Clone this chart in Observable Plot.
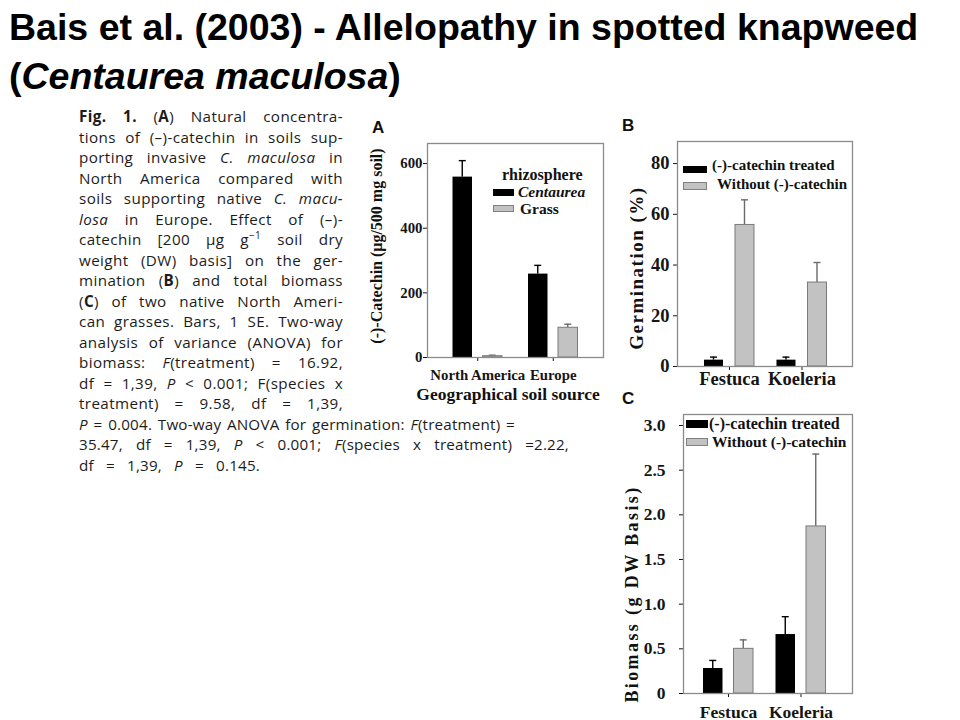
<!DOCTYPE html>
<html>
<head>
<meta charset="utf-8">
<script src="https://cdn.jsdelivr.net/npm/d3@7"></script>
<script src="https://cdn.jsdelivr.net/npm/@observablehq/plot@0.6"></script>
<style>
  html, body { margin:0; padding:0; background:#fff; }
  body { width:960px; height:720px; position:relative; overflow:hidden; }
  .abs { position:absolute; }
  #title { left:9px; top:3px; font-family:"Liberation Sans", Arial, sans-serif; font-weight:bold; font-size:37.5px; line-height:48.5px; color:#000; white-space:nowrap; }
  #caption { left:79px; top:106px; font-family:"Open Sans", sans-serif; font-size:15.2px; letter-spacing:0.4px; line-height:20.5px; color:#1c1c1c; }
  #caption .j { width:264px; text-align:justify; text-align-last:justify; }
  #caption .w16 { width:436px; letter-spacing:0.2px; }
  #caption .w17 { width:490px; letter-spacing:0.2px; }
  #caption .w18 { width:181px; letter-spacing:0.2px; }
  #caption sup { font-size:10px; line-height:0; vertical-align:6px; }
  .serif { position:absolute; font-family:"Liberation Serif", "Times New Roman", serif; font-weight:bold; color:#111; white-space:nowrap; line-height:1; }
  .rot { transform: translate(-50%,-50%) rotate(-90deg); }
  .ctr { transform: translate(-50%,-50%); }
  .vc { transform: translateY(-50%); }
  .letter { position:absolute; font-family:"Liberation Sans", Arial, sans-serif; font-weight:bold; font-size:17px; line-height:17px; color:#111; }
  .sw { position:absolute; box-sizing:border-box; }
  .sw.k { background:#000; }
  .sw.g { background:#c2c2c2; border:1px solid #808080; }
  .panel { position:absolute; }
</style>
</head>
<body>
<div id="title" class="abs">Bais et al. (2003) - Allelopathy in spotted knapweed<br>(<i>Centaurea maculosa</i>)</div>

<div id="caption" class="abs">
<div class="j"><b>Fig. 1.</b> (<b>A</b>) Natural concentra-</div>
<div class="j">tions of (–)-catechin in soils sup-</div>
<div class="j">porting invasive <i>C. maculosa</i> in</div>
<div class="j">North America compared with</div>
<div class="j">soils supporting native <i>C. macu-</i></div>
<div class="j"><i>losa</i> in Europe. Effect of (–)-</div>
<div class="j">catechin [200 μg g<sup>−1</sup> soil dry</div>
<div class="j">weight (DW) basis] on the ger-</div>
<div class="j">mination (<b>B</b>) and total biomass</div>
<div class="j">(<b>C</b>) of two native North Ameri-</div>
<div class="j">can grasses. Bars, 1 SE. Two-way</div>
<div class="j">analysis of variance (ANOVA) for</div>
<div class="j">biomass: <i>F</i>(treatment) = 16.92,</div>
<div class="j">df = 1,39, <i>P</i> &lt; 0.001; F(species x</div>
<div class="j">treatment) = 9.58, df = 1,39,</div>
<div class="j w16"><i>P</i> = 0.004. Two-way ANOVA for germination: <i>F</i>(treatment) =</div>
<div class="j w17">35.47, df = 1,39, <i>P</i> &lt; 0.001; <i>F</i>(species x treatment) =2.22,</div>
<div class="j w18">df = 1,39, <i>P</i> = 0.145.</div>
</div>

<div id="panelA" class="panel" style="left:360px;top:110px;width:260px;"></div>
<div id="panelB" class="panel" style="left:615px;top:110px;width:260px;"></div>
<div id="panelC" class="panel" style="left:615px;top:400px;width:260px;"></div>

<div id="overlay"></div>

<script>
// ---------- Data ----------
// Panel A: (-)-catechin in soil by geographical source and rhizosphere
const regions = ["North America", "Europe"];
const rhizosphere = ["Centaurea", "Grass"];
const catechinCentaurea = [558, 258];
const catechinCentaureaSE = [51, 27];
const catechinGrass = [4, 92];
const catechinGrassSE = [3, 11];
const catechinTicks = [0, 200, 400, 600];

// Panels B and C: two native grasses, with/without (-)-catechin
const grassSpecies = ["Festuca", "Koeleria"];
const treatments = ["(-)-catechin treated", "Without (-)-catechin"];
const germinationTreated = [2.5, 2.5];
const germinationTreatedSE = [1.2, 1.2];
const germinationControl = [55.8, 33.1];
const germinationControlSE = [9.9, 7.9];
const germinationTicks = [0, 20, 40, 60, 80];

const biomassTreated = [0.28, 0.66];
const biomassTreatedSE = [0.09, 0.20];
const biomassControl = [0.50, 1.87];
const biomassControlSE = [0.10, 0.81];
const biomassTicks = [0, 0.5, 1, 1.5, 2, 2.5, 3];
const biomassTickLabels = ["0", "0.5", "1.0", "1.5", "2.0", "2.5", "3.0"];

// ---------- Panel builder ----------
function groupedBarPanel(o) {
  const rows = o.cats.map((c, i) => ({
    cat: c,
    a: o.a[i], aHi: o.a[i] + o.aSE[i],
    b: o.b[i], bHi: o.b[i] + o.bSE[i]
  }));
  const n = o.cats.length;
  const pi = 1 - o.bw / o.step;
  const po = (o.frameW / o.step - n + pi) / 2;
  const ca = o.barW / 2, cb = o.bw - o.barW / 2;
  const lw = 1.4, cap = 7;
  const lineIns = c => ({insetLeft: c - lw / 2, insetRight: o.bw - c - lw / 2});
  const capIns = c => ({insetLeft: c - cap / 2, insetRight: o.bw - c - cap / 2});
  return Plot.plot({
    width: o.mL + o.frameW + o.mR,
    height: o.mT + o.frameH + o.mB,
    marginLeft: o.mL, marginRight: o.mR, marginTop: o.mT, marginBottom: o.mB,
    style: {
      background: "transparent",
      fontFamily: '"Liberation Serif", "Times New Roman", serif',
      fontWeight: "bold",
      fontSize: o.fontSize + "px",
      color: "#151515",
      overflow: "visible"
    },
    x: {type: "band", domain: o.cats, paddingInner: pi, paddingOuter: po, align: o.align,
        round: false, label: null, tickSize: 4, tickPadding: o.xPad},
    y: {domain: [0, o.yMax], ticks: o.ticks, tickFormat: o.fmt, tickSize: 4,
        tickPadding: o.yPad, label: null},
    marks: [
      Plot.barY(rows, {x: "cat", y1: "a", y2: "aHi", fill: "#000", ...lineIns(ca)}),
      Plot.tickY(rows, {x: "cat", y: "aHi", stroke: "#000", strokeWidth: 1.4, ...capIns(ca)}),
      Plot.barY(rows, {x: "cat", y1: "b", y2: "bHi", fill: "#6a6a6a", ...lineIns(cb)}),
      Plot.tickY(rows, {x: "cat", y: "bHi", stroke: "#6a6a6a", strokeWidth: 1.4, ...capIns(cb)}),
      Plot.barY(rows, {x: "cat", y: "a", fill: "#000", insetLeft: 0, insetRight: o.bw - o.barW}),
      Plot.barY(rows, {x: "cat", y: "b", fill: "#c2c2c2", stroke: "#7a7a7a", strokeWidth: 1,
                       insetLeft: o.bw - o.barW, insetRight: 0}),
      Plot.frame({stroke: "#8a8a8a", strokeWidth: 1.3})
    ]
  });
}

document.getElementById("panelA").append(groupedBarPanel({
  cats: regions, a: catechinCentaurea, aSE: catechinCentaureaSE, b: catechinGrass, bSE: catechinGrassSE,
  yMax: 662, ticks: catechinTicks, fmt: d => String(d),
  mL: 67, frameW: 176, mR: 7, mT: 33, frameH: 214, mB: 53,
  step: 75.5, bw: 49.5, barW: 19.5, align: 0.5, fontSize: 14.8, xPad: 8, yPad: 1
}));

document.getElementById("panelB").append(groupedBarPanel({
  cats: grassSpecies, a: germinationTreated, aSE: germinationTreatedSE, b: germinationControl, bSE: germinationControlSE,
  yMax: 88.7, ticks: germinationTicks, fmt: d => String(d),
  mL: 62, frameW: 175, mR: 8, mT: 31, frameH: 225, mB: 34,
  step: 72.5, bw: 50, barW: 19, align: 0.514, fontSize: 18.5, xPad: 1, yPad: 4
}));

document.getElementById("panelC").append(groupedBarPanel({
  cats: grassSpecies, a: biomassTreated, aSE: biomassTreatedSE, b: biomassControl, bSE: biomassControlSE,
  yMax: 3.123, ticks: biomassTicks, fmt: d => biomassTickLabels[biomassTicks.indexOf(d)],
  mL: 68, frameW: 169, mR: 8, mT: 14, frameH: 279, mB: 27,
  step: 72.5, bw: 50, barW: 19.5, align: 0.43, fontSize: 17.5, xPad: 8, yPad: 14
}));

// ---------- Overlay text: panel letters, axis titles, legends ----------
const ov = document.getElementById("overlay");
function add(html) { ov.insertAdjacentHTML("beforeend", html); }

add(`<div class="letter" style="left:372px;top:119px;">A</div>`);
add(`<div class="letter" style="left:622px;top:117px;">B</div>`);
add(`<div class="letter" style="left:622px;top:390px;">C</div>`);

add(`<div class="serif rot" style="left:377px;top:246px;font-size:16px;">(-)-Catechin (μg/500 mg soil)</div>`);
add(`<div class="serif ctr" style="left:508px;top:395px;font-size:17.5px;">Geographical soil source</div>`);
add(`<div class="serif rot" style="left:636px;top:268px;font-size:19px;letter-spacing:1.5px;">Germination (%)</div>`);
add(`<div class="serif rot" style="left:632px;top:594px;font-size:18px;letter-spacing:2.4px;">Biomass (g DW Basis)</div>`);

// Legend A
add(`<div class="serif vc" style="left:502px;top:175px;font-size:16px;">rhizosphere</div>`);
add(`<div class="sw k" style="left:493px;top:189px;width:21px;height:7px;"></div>`);
add(`<div class="serif vc" style="left:518px;top:192px;font-size:15.5px;"><i>${rhizosphere[0]}</i></div>`);
add(`<div class="sw g" style="left:493px;top:205px;width:21px;height:7px;"></div>`);
add(`<div class="serif vc" style="left:520px;top:209px;font-size:15.5px;">${rhizosphere[1]}</div>`);

// Legend B
add(`<div class="sw k" style="left:683px;top:166px;width:24px;height:7px;"></div>`);
add(`<div class="serif vc" style="left:712px;top:165px;font-size:15px;">${treatments[0]}</div>`);
add(`<div class="sw g" style="left:683px;top:182px;width:24px;height:8px;"></div>`);
add(`<div class="serif vc" style="left:717px;top:184px;font-size:15px;">${treatments[1]}</div>`);

// Legend C
add(`<div class="sw k" style="left:686px;top:420px;width:22px;height:8px;"></div>`);
add(`<div class="serif vc" style="left:709px;top:424px;font-size:16px;">${treatments[0]}</div>`);
add(`<div class="sw g" style="left:686px;top:438px;width:22px;height:8px;"></div>`);
add(`<div class="serif vc" style="left:712px;top:442px;font-size:15.5px;">${treatments[1]}</div>`);
</script>
</body>
</html>
